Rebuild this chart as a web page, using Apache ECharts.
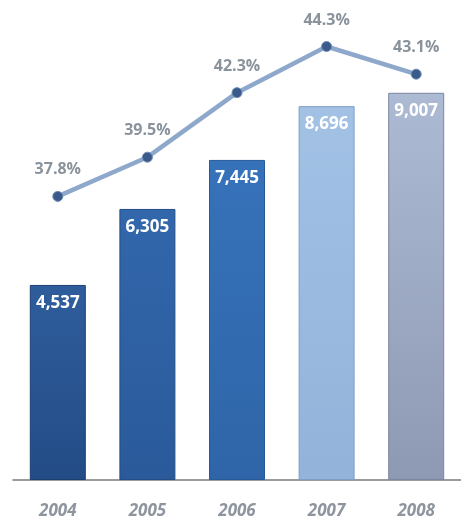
<!DOCTYPE html>
<html>
<head>
<meta charset="utf-8">
<script src="https://cdn.jsdelivr.net/npm/echarts@6/dist/echarts.min.js"></script>
<style>
  html, body { margin: 0; padding: 0; background: #ffffff; }
  #chart { width: 461px; height: 523px; }
</style>
</head>
<body>
<div id="chart"></div>
<script>
// Yearly totals (bars) and share percentages (line)
const years = ['2004', '2005', '2006', '2007', '2008'];
const totals = [4537, 6305, 7445, 8696, 9007];
const shares = [37.8, 39.5, 42.3, 44.3, 43.1];

// Bar fills: three deep blues, then a pale blue and a grey-blue
const barTops = ['#2f5d9c', '#3267ac', '#3672ba', '#a2c1e5', '#adbad3'];
const barBottoms = ['#234c86', '#2a5a9a', '#2f65a8', '#93b3da', '#8e9ab4'];
const barEdges = ['#1c3f72', '#224d86', '#285a98', '#7f9ec6', '#7b87a0'];

function grad(top, bottom) {
  return new echarts.graphic.LinearGradient(0, 0, 0, 1, [
    { offset: 0, color: top },
    { offset: 1, color: bottom }
  ]);
}

const barData = totals.map((v, i) => ({
  value: v,
  itemStyle: {
    color: grad(barTops[i], barBottoms[i]),
    borderColor: barEdges[i],
    borderWidth: 1
  }
}));

const chart = echarts.init(document.getElementById('chart'), null, { renderer: 'canvas' });

chart.setOption({
  backgroundColor: '#ffffff',
  animation: false,
  grid: { left: 13, right: -3, top: 20, bottom: 43, containLabel: false },
  xAxis: {
    type: 'category',
    data: years,
    axisLine: { show: true, lineStyle: { color: '#7a7a7a', width: 1.5 } },
    axisTick: { show: false },
    axisLabel: {
      margin: 23,
      color: '#8e959e',
      fontFamily: 'Open Sans',
      fontStyle: 'italic',
      fontWeight: 'bold',
      fontSize: 17
    }
  },
  yAxis: [
    { type: 'value', min: 0, max: 10700, show: false, splitLine: { show: false } },
    { type: 'value', min: 25.5, max: 45.45, show: false, splitLine: { show: false } }
  ],
  series: [
    {
      type: 'bar',
      yAxisIndex: 0,
      barWidth: 56,
      data: barData,
      label: {
        show: true,
        position: 'insideTop',
        distance: 10,
        color: '#ffffff',
        fontFamily: 'Open Sans',
        fontWeight: 'bold',
        fontSize: 17,
        formatter: p => p.value.toLocaleString('en-US')
      }
    },
    {
      type: 'line',
      yAxisIndex: 1,
      data: shares,
      symbol: 'circle',
      symbolSize: 10,
      clip: false,
      lineStyle: { color: '#8ea8cb', width: 4.5 },
      itemStyle: { color: '#3a5a8a', borderColor: '#6f8db5', borderWidth: 1 },
      label: {
        show: true,
        position: 'top',
        distance: 13,
        color: '#8a939c',
        fontFamily: 'Open Sans',
        fontWeight: 'bold',
        fontSize: 16,
        formatter: p => p.value.toFixed(1) + '%'
      },
      z: 5
    }
  ]
});
</script>
</body>
</html>
